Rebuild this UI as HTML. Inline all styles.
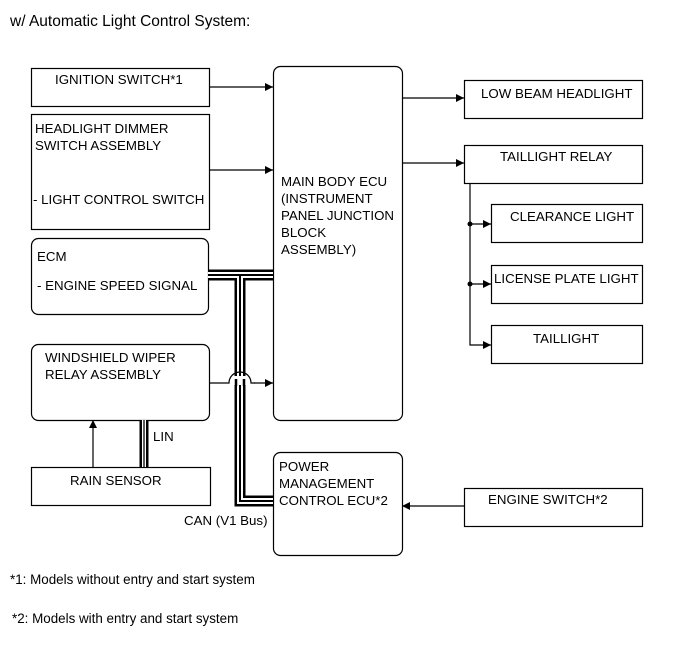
<!DOCTYPE html>
<html><head><meta charset="utf-8"><style>
html,body{margin:0;padding:0;background:#fff;}
svg{display:block;}
text{font-family:"Liberation Sans",Arial,sans-serif;font-size:13.3px;fill:#000;}
</style></head><body>
<svg width="691" height="660" viewBox="0 0 691 660" xmlns="http://www.w3.org/2000/svg">
<defs>
<marker id="a" viewBox="0 0 10 10" refX="10" refY="5" markerWidth="11" markerHeight="8" markerUnits="userSpaceOnUse" orient="auto"><path d="M0,0 L10,5 L0,10 z" fill="#000"/></marker>
</defs>
<text x="10" y="26" style="font-size:15.5px">w/ Automatic Light Control System:</text>
<g fill="none" stroke="#000" stroke-width="1.2">
<rect x="31.5" y="68.5" width="178" height="38"/>
<rect x="31.5" y="114.5" width="178" height="115"/>
<rect x="31.5" y="238.5" width="177" height="76" rx="7"/>
<rect x="31.5" y="344.5" width="178" height="76" rx="7"/>
<rect x="31.5" y="467.5" width="179" height="38"/>
<rect x="273.5" y="66.5" width="129" height="354" rx="7"/>
<rect x="273.5" y="452.5" width="129" height="103" rx="7"/>
<rect x="464.5" y="80.5" width="178" height="38"/>
<rect x="464.5" y="145.5" width="178" height="38"/>
<rect x="491.5" y="204.5" width="151" height="38"/>
<rect x="491.5" y="265.5" width="151" height="38"/>
<rect x="491.5" y="325.5" width="151" height="38"/>
<rect x="464.5" y="488.5" width="178" height="38"/>
<line x1="210" y1="87" x2="273" y2="87" marker-end="url(#a)"/>
<line x1="210" y1="170" x2="273" y2="170" marker-end="url(#a)"/>
<line x1="402" y1="98" x2="464" y2="98" marker-end="url(#a)"/>
<line x1="402" y1="163" x2="464" y2="163" marker-end="url(#a)"/>
<line x1="464" y1="506" x2="402" y2="506" marker-end="url(#a)"/>
<polyline points="470,183 470,345 491,345" marker-end="url(#a)"/>
<line x1="470" y1="224" x2="491" y2="224" marker-end="url(#a)"/>
<line x1="470" y1="284" x2="491" y2="284" marker-end="url(#a)"/>
<line x1="93" y1="467" x2="93" y2="420" marker-end="url(#a)"/>
<line x1="254" y1="383" x2="273" y2="383" marker-end="url(#a)"/>
</g>
<circle cx="470" cy="224" r="2.5"/>
<circle cx="470" cy="284" r="2.5"/>
<g fill="none" stroke-linejoin="miter">
<path d="M208,275 H273 M240,275 V501 H273" stroke="#000" stroke-width="11"/>
<path d="M208,275 H273 M240,275 V501 H273" stroke="#fff" stroke-width="6"/>
<path d="M208,275 H273 M240,275 V501 H273" stroke="#000" stroke-width="2"/>
<path d="M144,420 V467" stroke="#000" stroke-width="9"/>
<path d="M144,420 V467" stroke="#fff" stroke-width="4"/>
<path d="M144,420 V467" stroke="#000" stroke-width="1.3"/>
</g>
<rect x="233" y="376" width="14" height="9" fill="#fff"/>
<path d="M210,383 H229 A11,11 0 0 1 251,383 H255" fill="none" stroke="#000" stroke-width="1.2"/>
<path d="M236,386 V379 M244,386 V379" stroke="#000" stroke-width="2.5"/>
<text x="55" y="84">IGNITION SWITCH*1</text>
<text x="35" y="133">HEADLIGHT DIMMER</text>
<text x="35" y="150">SWITCH ASSEMBLY</text>
<text x="33" y="204">- LIGHT CONTROL SWITCH</text>
<text x="37" y="261">ECM</text>
<text x="37" y="290">- ENGINE SPEED SIGNAL</text>
<text x="45" y="362">WINDSHIELD WIPER</text>
<text x="45" y="379">RELAY ASSEMBLY</text>
<text x="153" y="441">LIN</text>
<text x="70" y="485">RAIN SENSOR</text>
<text x="184" y="525">CAN (V1 Bus)</text>
<text x="281" y="186">MAIN BODY ECU</text>
<text x="281" y="203">(INSTRUMENT</text>
<text x="281" y="220">PANEL JUNCTION</text>
<text x="281" y="237">BLOCK</text>
<text x="281" y="254">ASSEMBLY)</text>
<text x="279" y="471">POWER</text>
<text x="279" y="488">MANAGEMENT</text>
<text x="279" y="505">CONTROL ECU*2</text>
<text x="481" y="98">LOW BEAM HEADLIGHT</text>
<text x="500" y="161">TAILLIGHT RELAY</text>
<text x="510" y="221">CLEARANCE LIGHT</text>
<text x="494" y="283">LICENSE PLATE LIGHT</text>
<text x="533" y="343">TAILLIGHT</text>
<text x="488" y="504">ENGINE SWITCH*2</text>
<text x="10" y="584" style="font-size:13.4px">*1: Models without entry and start system</text>
<text x="12" y="623" style="font-size:13.4px">*2: Models with entry and start system</text>
</svg>
</body></html>
